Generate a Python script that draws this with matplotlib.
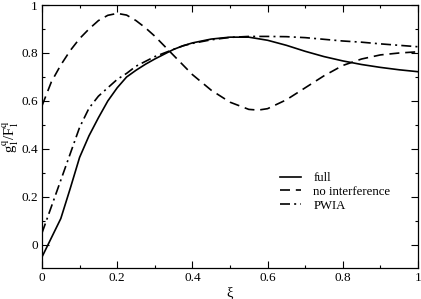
import matplotlib
matplotlib.use("Agg")
import matplotlib.pyplot as plt
from matplotlib.ticker import MultipleLocator, FixedLocator

plt.rcParams['font.family'] = ['Liberation Serif', 'DejaVu Serif']
plt.rcParams['mathtext.fontset'] = 'stix'

xi_full = [0, 0.025, 0.05, 0.075, 0.1, 0.125, 0.15, 0.175, 0.2, 0.225, 0.25, 0.275,
           0.3, 0.325, 0.35, 0.375, 0.4, 0.45, 0.5, 0.55, 0.6, 0.65, 0.7, 0.75,
           0.8, 0.85, 0.9, 0.95, 1.0]
full = [-0.05, 0.03, 0.11, 0.235, 0.365, 0.455, 0.53, 0.60, 0.655, 0.70, 0.728, 0.753,
        0.775, 0.795, 0.815, 0.83, 0.842, 0.858, 0.866, 0.866, 0.853, 0.832, 0.807, 0.785,
        0.767, 0.752, 0.740, 0.730, 0.722]

xi_noint = [0, 0.025, 0.05, 0.075, 0.1, 0.125, 0.15, 0.175, 0.2, 0.225, 0.25, 0.275,
            0.3, 0.325, 0.35, 0.375, 0.4, 0.45, 0.5, 0.55, 0.575, 0.6, 0.65, 0.7,
            0.75, 0.8, 0.85, 0.9, 0.95, 1.0]
noint = [0.58, 0.68, 0.75, 0.81, 0.86, 0.90, 0.935, 0.957, 0.965, 0.958, 0.935, 0.905,
         0.87, 0.83, 0.79, 0.75, 0.71, 0.645, 0.595, 0.565, 0.562, 0.568, 0.605, 0.655,
         0.705, 0.748, 0.775, 0.792, 0.80, 0.805]

xi_pwia = [0, 0.025, 0.05, 0.075, 0.1, 0.125, 0.15, 0.175, 0.2, 0.225, 0.25, 0.275,
           0.3, 0.325, 0.35, 0.375, 0.4, 0.45, 0.5, 0.55, 0.6, 0.65, 0.7, 0.75,
           0.8, 0.85, 0.9, 0.95, 1.0]
pwia = [0.05, 0.16, 0.27, 0.38, 0.49, 0.57, 0.62, 0.655, 0.69, 0.715, 0.745, 0.765,
        0.785, 0.80, 0.815, 0.83, 0.84, 0.855, 0.865, 0.869, 0.869, 0.868, 0.864, 0.857,
        0.850, 0.845, 0.838, 0.832, 0.826]

labels = ["full", "no interference", "PWIA"]
xticks = [0, 0.2, 0.4, 0.6, 0.8, 1.0]
xticklabels = ["0", "0.2", "0.4", "0.6", "0.8", "1"]
yticks = [0, 0.2, 0.4, 0.6, 0.8, 1.0]
yticklabels = ["0", "0.2", "0.4", "0.6", "0.8", "1"]

fig = plt.figure(figsize=(4.21, 2.99), dpi=100)
ax = fig.add_axes([42/421, 1-268/299, 376/421, 263/299])

lw = 1.2
ax.plot(xi_full, full, color='black', lw=lw, linestyle='-', label=labels[0])
ax.plot(xi_noint, noint, color='black', lw=lw, linestyle=(0, (6, 3.5)), label=labels[1])
ax.plot(xi_pwia, pwia, color='black', lw=lw, linestyle=(0, (6, 2.5, 1.2, 2.5)), label=labels[2])

ax.set_xlim(0, 1)
ax.set_ylim(-0.096, 1)
ax.xaxis.set_major_locator(FixedLocator(xticks))
ax.set_xticklabels(xticklabels)
ax.yaxis.set_major_locator(FixedLocator(yticks))
ax.set_yticklabels(yticklabels)
ax.xaxis.set_minor_locator(MultipleLocator(0.1))
ax.yaxis.set_minor_locator(MultipleLocator(0.1))
ax.tick_params(which='both', direction='in', top=True, right=True, labelsize=9.5,
               width=0.8, color='black')
ax.tick_params(which='major', length=5, pad=3)
ax.tick_params(which='minor', length=2.5)
for s in ax.spines.values():
    s.set_linewidth(0.9)

ax.set_xlabel('ξ', fontsize=10.5)
ax.xaxis.set_label_coords(0.5, -0.095)
ax.xaxis.label.set_va('center')
ax.set_ylabel(r'g$_1^{\rm q}$/F$_1^{\rm q}$', fontsize=10.5)
ax.yaxis.set_label_coords(-0.083, 0.5)
ax.yaxis.label.set_va('center')

leg = ax.legend(loc='upper left', bbox_to_anchor=(280/421, 1-172/299),
                bbox_transform=fig.transFigure, frameon=False, fontsize=9.2,
                handlelength=1.65, handletextpad=0.95, labelspacing=0.15,
                borderpad=0, borderaxespad=0)

fig.savefig('out.png', dpi=100)
